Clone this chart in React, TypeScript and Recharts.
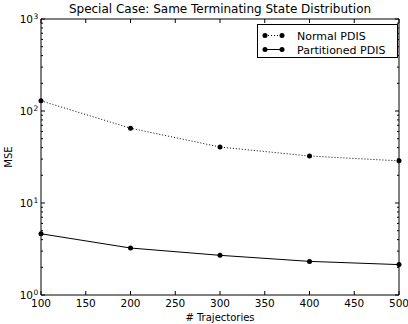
import { LineChart, Line, XAxis, YAxis } from 'recharts'

const trajectories = [100, 200, 300, 400, 500]
const normalPdis = [129, 65, 40.6, 32.4, 28.7]
const partitionedPdis = [4.63, 3.24, 2.7, 2.32, 2.14]

const xTicks = [100, 150, 200, 250, 300, 350, 400, 450, 500]
const yMajor = [1, 10, 100, 1000]
const yTicks = [
  1, 2, 3, 4, 5, 6, 7, 8, 9,
  10, 20, 30, 40, 50, 60, 70, 80, 90,
  100, 200, 300, 400, 500, 600, 700, 800, 900,
  1000,
]

const data = trajectories.map((t, i) => ({
  x: t,
  normal: normalPdis[i],
  partitioned: partitionedPdis[i],
}))

const FONT = 'DejaVu Sans, sans-serif'

function BottomTick({ x, y, payload }: any) {
  return (
    <g>
      <line x1={x} x2={x} y1={y} y2={y - 4} stroke="#000" />
      <text x={x} y={y + 12} textAnchor="middle" fontSize={10.5} fontFamily={FONT} fill="#000">
        {payload.value}
      </text>
    </g>
  )
}

function TopTick({ x, y }: any) {
  return <line x1={x} x2={x} y1={y} y2={y + 4} stroke="#000" />
}

const isMajor = (v: number) => yMajor.includes(v)

function LeftTick({ x, y, payload }: any) {
  const major = isMajor(payload.value)
  const exp = Math.round(Math.log10(payload.value))
  return (
    <g>
      <line x1={x} x2={x + (major ? 4 : 2)} y1={y} y2={y} stroke="#000" />
      {major && (
        <text x={x - 8} y={y + 4} textAnchor="end" fontSize={10.5} fontFamily={FONT} fill="#000">
          10
        </text>
      )}
      {major && (
        <text x={x - 7.5} y={y - 0.5} textAnchor="start" fontSize={7.5} fontFamily={FONT} fill="#000">
          {exp}
        </text>
      )}
    </g>
  )
}

function RightTick({ x, y, payload }: any) {
  const major = isMajor(payload.value)
  return <line x1={x} x2={x - (major ? 4 : 2)} y1={y} y2={y} stroke="#000" />
}

const legendRows = [
  { label: 'Normal PDIS', dash: '1 2' },
  { label: 'Partitioned PDIS', dash: undefined },
]

function LegendBox() {
  return (
    <g transform="translate(257, 24)">
      <rect x={0.5} y={0.5} width={140} height={33} fill="#fff" stroke="#000" />
      {legendRows.map((r, i) => {
        const cy = 11.5 + i * 14
        return (
          <g key={r.label}>
            <line x1={8} x2={25} y1={cy} y2={cy} stroke="#000" strokeDasharray={r.dash} />
            <circle cx={8} cy={cy} r={2.5} fill="#000" />
            <circle cx={25} cy={cy} r={2.5} fill="#000" />
            <text x={40} y={cy + 4} fontSize={11} fontFamily={FONT} fill="#000">
              {r.label}
            </text>
          </g>
        )
      })}
    </g>
  )
}

export default function App() {
  return (
    <div style={{ position: 'absolute', left: 0, top: 0, width: 408, height: 324, background: '#fff' }}>
      <LineChart width={408} height={324} data={data} margin={{ top: 18, right: 8, bottom: 9, left: 11 }}>
        <text x={220} y={13} textAnchor="middle" fontSize={12} fontFamily={FONT} fill="#000">
          Special Case: Same Terminating State Distribution
        </text>
        <text
          x={12}
          y={157}
          textAnchor="middle"
          fontSize={10}
          fontFamily={FONT}
          fill="#000"
          transform="rotate(-90 12 157)"
        >
          MSE
        </text>
        <text x={220} y={321} textAnchor="middle" fontSize={10} fontFamily={FONT} fill="#000">
          # Trajectories
        </text>
        <XAxis
          dataKey="x"
          type="number"
          domain={[100, 500]}
          ticks={xTicks}
          interval={0}
          height={20}
          tickSize={0}
          tickMargin={0}
          tickLine={false}
          axisLine={{ stroke: '#000' }}
          tick={<BottomTick />}
        />
        <XAxis
          xAxisId="top"
          orientation="top"
          dataKey="x"
          type="number"
          domain={[100, 500]}
          ticks={xTicks}
          interval={0}
          height={1}
          tickSize={0}
          tickMargin={0}
          tickLine={false}
          axisLine={{ stroke: '#000' }}
          tick={<TopTick />}
        />
        <YAxis
          scale="log"
          domain={[1, 1000]}
          ticks={yTicks}
          interval={0}
          allowDataOverflow
          width={30}
          tickSize={0}
          tickMargin={0}
          tickLine={false}
          axisLine={{ stroke: '#000' }}
          tick={<LeftTick />}
        />
        <YAxis
          yAxisId="right"
          orientation="right"
          scale="log"
          domain={[1, 1000]}
          ticks={yTicks}
          interval={0}
          allowDataOverflow
          width={1}
          tickSize={0}
          tickMargin={0}
          tickLine={false}
          axisLine={{ stroke: '#000' }}
          tick={<RightTick />}
        />
        <Line
          dataKey="normal"
          name="Normal PDIS"
          stroke="#000"
          strokeWidth={1}
          strokeDasharray="1 2"
          dot={{ r: 2.5, fill: '#000', stroke: '#000', strokeWidth: 0 }}
          isAnimationActive={false}
        />
        <Line
          dataKey="partitioned"
          name="Partitioned PDIS"
          stroke="#000"
          strokeWidth={1}
          dot={{ r: 2.5, fill: '#000', stroke: '#000', strokeWidth: 0 }}
          isAnimationActive={false}
        />
        <LegendBox />
      </LineChart>
    </div>
  )
}
